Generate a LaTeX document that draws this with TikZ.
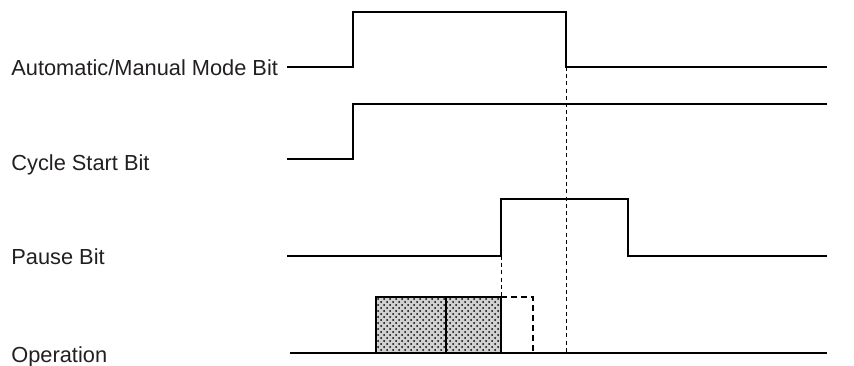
\documentclass[tikz,border=0pt]{standalone}
\usepackage{fontspec}
\setmainfont{Liberation Sans}
\usetikzlibrary{patterns}
\definecolor{timInk}{HTML}{000000}
\definecolor{timText}{HTML}{231F20}
\tikzset{
  every picture/.style={font=\fontsize{10.9}{13}\selectfont, text=timText},
  tim label/.style={anchor=base west, inner sep=0pt},
  tim signal/.style={draw=timInk, line width=1pt, line join=miter},
  tim guide/.style={draw=timInk, line width=0.45pt, dash pattern=on 2pt off 1.6pt},
  tim pending/.style={draw=timInk, line width=1pt, dash pattern=on 3pt off 2pt},
  tim busy/.style={draw=timInk, line width=1pt, preaction={fill=timInk!18},
    pattern=crosshatch dots, pattern color=timInk}
}

\begin{document}
\begin{tikzpicture}[x=0.5pt,y=-0.5pt]
  \useasboundingbox (0,0) rectangle (854,365);
  \node[tim label] (auto) at (11,75) {Automatic/Manual Mode Bit};
  \node[tim label] (cycle) at (11,170) {Cycle Start Bit};
  \node[tim label] (pause) at (11,264) {Pause Bit};
  \node[tim label] (oper) at (11,362) {Operation};
  \draw[tim guide] (566,67) -- (566,353);
  \draw[tim guide] (501,256) -- (501,297);
  \draw[tim busy] (376,353) rectangle (446,297);
  \draw[tim busy] (446,353) rectangle (501,297);
  \draw[tim pending] (501,297) -- (533,297) -- (533,353);
  \draw[tim signal] (287,67) -- (353,67) -- (353,12) -- (566,12) -- (566,67) -- (827,67);
  \draw[tim signal] (287,159) -- (353,159) -- (353,104) -- (827,104);
  \draw[tim signal] (287,256) -- (501,256) -- (501,199) -- (628,199) -- (628,256) -- (827,256);
  \draw[tim signal] (290,353) -- (827,353);
\end{tikzpicture}
\end{document}
